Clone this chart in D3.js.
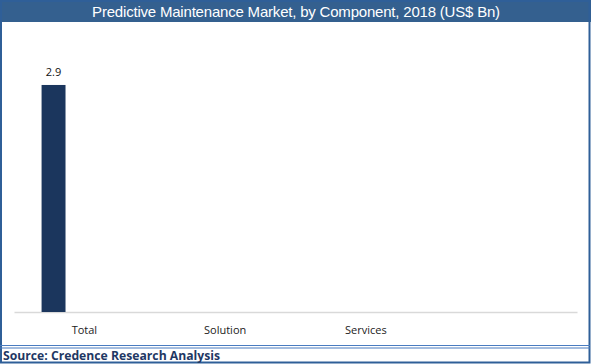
<!DOCTYPE html>
<html lang="en">
<head>
<meta charset="utf-8">
<title>Predictive Maintenance Market, by Component, 2018</title>
<script src="https://d3js.org/d3.v7.min.js"></script>
<style type="text/css">
  body { margin: 0; background: #fff; }
  #chart { width: 591px; height: 364px; }
</style>
</head>
<body>
<div id="chart"></div>
<script type="text/javascript">
// data
var categories = ["Total", "Solution", "Services", ""];
var seriesNames = ["Total", "Solution", "Services"];
var values = [2.9];          // only the Total bar is drawn (US$ Bn)
var yMax = 3.5;
var title = "Predictive Maintenance Market, by Component, 2018 (US$ Bn)";
var source = "Source: Credence Research Analysis";

var W = 591, H = 364;
var blue = "#2f5f98";
var margin = {top: 38, right: 14, bottom: 52, left: 14};

var svg = d3.select("#chart").append("svg")
    .attr("width", W).attr("height", H);

// frame
svg.append("rect").attr("x", 0).attr("y", 0).attr("width", W).attr("height", H).attr("fill", "#fff");
svg.append("rect").attr("x", 0).attr("y", 0).attr("width", W).attr("height", 22).attr("fill", "#34608f");
svg.append("rect").attr("x", 1).attr("y", 1).attr("width", 588.5).attr("height", 361.5)
    .attr("fill", "none").attr("stroke", blue).attr("stroke-width", 2);
svg.append("line").attr("x1", 0).attr("x2", 590).attr("y1", 345.5).attr("y2", 345.5)
    .attr("stroke", "#4a7cc0").attr("stroke-width", 1.2);
svg.append("line").attr("x1", 0).attr("x2", 590).attr("y1", 348).attr("y2", 348)
    .attr("stroke", "#4a7cc0").attr("stroke-width", 1.2);

svg.append("text")
    .attr("x", 296).attr("y", 17)
    .attr("text-anchor", "middle")
    .attr("fill", "#fff")
    .style("font-family", "'Liberation Sans', Arial, sans-serif")
    .style("font-size", "15px")
    .style("letter-spacing", "-0.2px")
    .text(title);

svg.append("text")
    .attr("x", 3).attr("y", 360)
    .attr("fill", "#1f3864")
    .style("font-family", "'Open Sans', sans-serif")
    .style("font-weight", "bold")
    .style("font-size", "12.2px")
    .text(source);

var width = W - margin.left - margin.right,
    height = H - margin.top - margin.bottom;

var main = svg.append("g")
    .attr("transform", "translate(" + margin.left + "," + margin.top + ")");

var x0 = d3.scaleBand().domain(categories).range([0, width]);
var x1 = d3.scaleBand().domain(seriesNames).range([0, x0.bandwidth()])
    .paddingInner(0).paddingOuter(1.44).align(0.4);
var y = d3.scaleLinear().domain([0, yMax]).range([height, 0]);

// x axis
var xAxis = d3.axisBottom(x0).tickSize(0).tickPadding(14);
var gx = main.append("g")
    .attr("transform", "translate(0," + height + ")")
    .call(xAxis);
gx.select(".domain").attr("stroke", "#d9d9d9").attr("stroke-width", 1.3);
gx.selectAll("text")
    .attr("fill", "#222")
    .style("font-family", "'Open Sans', sans-serif")
    .style("font-size", "11px");

// bars
var bars = values.map(function (v, i) { return {s: seriesNames[i], c: categories[0], v: v}; });

main.selectAll(".bar")
    .data(bars)
    .enter().append("rect")
    .attr("class", "bar")
    .attr("x", function (d) { return x0(d.c) + x1(d.s); })
    .attr("width", x1.bandwidth())
    .attr("y", function (d) { return y(d.v); })
    .attr("height", function (d) { return height - y(d.v); })
    .attr("fill", "#1b365d");

main.selectAll(".lbl")
    .data(bars)
    .enter().append("text")
    .attr("class", "lbl")
    .attr("x", function (d) { return x0(d.c) + x1(d.s) + x1.bandwidth() / 2; })
    .attr("y", function (d) { return y(d.v) - 9; })
    .attr("text-anchor", "middle")
    .attr("fill", "#111")
    .style("font-family", "'Open Sans', sans-serif")
    .style("font-size", "11px")
    .text(function (d) { return d.v.toFixed(1); });
</script>
</body>
</html>
